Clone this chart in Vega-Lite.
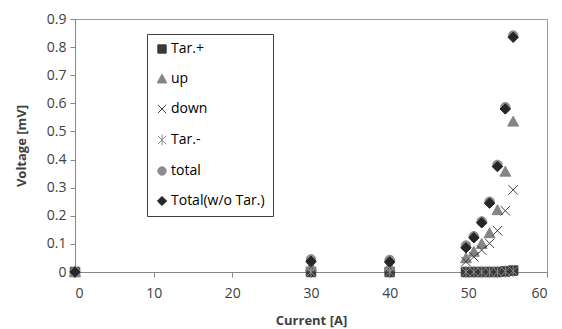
{
  "$schema": "https://vega.github.io/schema/vega-lite/v6.json",
  "width": 472,
  "height": 253,
  "autosize": {"type": "none"},
  "padding": {"left": 75, "top": 19, "right": 15, "bottom": 57},
  "background": "white",
  "data": {"values": [
    {"series": "Tar.+", "current": 0, "voltage": 0},
    {"series": "Tar.+", "current": 30, "voltage": 0},
    {"series": "Tar.+", "current": 40, "voltage": 0},
    {"series": "Tar.+", "current": 49.7, "voltage": 0},
    {"series": "Tar.+", "current": 50.7, "voltage": 0},
    {"series": "Tar.+", "current": 51.7, "voltage": 0},
    {"series": "Tar.+", "current": 52.7, "voltage": 0},
    {"series": "Tar.+", "current": 53.7, "voltage": 0},
    {"series": "Tar.+", "current": 54.7, "voltage": 0.002},
    {"series": "Tar.+", "current": 55.7, "voltage": 0.005},
    {"series": "up", "current": 0, "voltage": 0},
    {"series": "up", "current": 30, "voltage": 0.02},
    {"series": "up", "current": 40, "voltage": 0.02},
    {"series": "up", "current": 49.7, "voltage": 0.049},
    {"series": "up", "current": 50.7, "voltage": 0.072},
    {"series": "up", "current": 51.7, "voltage": 0.1},
    {"series": "up", "current": 52.7, "voltage": 0.138},
    {"series": "up", "current": 53.7, "voltage": 0.22},
    {"series": "up", "current": 54.7, "voltage": 0.357},
    {"series": "up", "current": 55.7, "voltage": 0.535},
    {"series": "down", "current": 0, "voltage": 0},
    {"series": "down", "current": 30, "voltage": 0.017},
    {"series": "down", "current": 40, "voltage": 0.016},
    {"series": "down", "current": 49.7, "voltage": 0.037},
    {"series": "down", "current": 50.7, "voltage": 0.054},
    {"series": "down", "current": 51.7, "voltage": 0.078},
    {"series": "down", "current": 52.7, "voltage": 0.102},
    {"series": "down", "current": 53.7, "voltage": 0.147},
    {"series": "down", "current": 54.7, "voltage": 0.218},
    {"series": "down", "current": 55.7, "voltage": 0.292},
    {"series": "Tar.-", "current": 0, "voltage": 0},
    {"series": "Tar.-", "current": 30, "voltage": 0},
    {"series": "Tar.-", "current": 40, "voltage": 0},
    {"series": "Tar.-", "current": 49.7, "voltage": 0},
    {"series": "Tar.-", "current": 50.7, "voltage": 0},
    {"series": "Tar.-", "current": 51.7, "voltage": 0},
    {"series": "Tar.-", "current": 52.7, "voltage": 0},
    {"series": "Tar.-", "current": 53.7, "voltage": 0},
    {"series": "Tar.-", "current": 54.7, "voltage": 0.002},
    {"series": "Tar.-", "current": 55.7, "voltage": 0.003},
    {"series": "total", "current": 0, "voltage": 0},
    {"series": "total", "current": 30, "voltage": 0.045},
    {"series": "total", "current": 40, "voltage": 0.043},
    {"series": "total", "current": 49.7, "voltage": 0.094},
    {"series": "total", "current": 50.7, "voltage": 0.127},
    {"series": "total", "current": 51.7, "voltage": 0.18},
    {"series": "total", "current": 52.7, "voltage": 0.25},
    {"series": "total", "current": 53.7, "voltage": 0.381},
    {"series": "total", "current": 54.7, "voltage": 0.586},
    {"series": "total", "current": 55.7, "voltage": 0.841},
    {"series": "Total(w/o Tar.)", "current": 0, "voltage": 0},
    {"series": "Total(w/o Tar.)", "current": 30, "voltage": 0.038},
    {"series": "Total(w/o Tar.)", "current": 40, "voltage": 0.036},
    {"series": "Total(w/o Tar.)", "current": 49.7, "voltage": 0.086},
    {"series": "Total(w/o Tar.)", "current": 50.7, "voltage": 0.122},
    {"series": "Total(w/o Tar.)", "current": 51.7, "voltage": 0.175},
    {"series": "Total(w/o Tar.)", "current": 52.7, "voltage": 0.245},
    {"series": "Total(w/o Tar.)", "current": 53.7, "voltage": 0.375},
    {"series": "Total(w/o Tar.)", "current": 54.7, "voltage": 0.58},
    {"series": "Total(w/o Tar.)", "current": 55.7, "voltage": 0.835}
  ]},
  "mark": {"type": "point", "filled": true, "size": 90, "strokeWidth": 1, "opacity": 1},
  "encoding": {
    "x": {
      "field": "current", "type": "quantitative",
      "scale": {"domain": [0, 60], "nice": false, "zero": true},
      "axis": {"values": [0, 10, 20, 30, 40, 50, 60], "title": "Current [A]", "grid": false, "titlePadding": 14, "labelPadding": 9}
    },
    "y": {
      "field": "voltage", "type": "quantitative",
      "scale": {"domain": [0, 0.9], "nice": false},
      "axis": {"values": [0, 0.1, 0.2, 0.3, 0.4, 0.5, 0.6, 0.7, 0.8, 0.9], "format": ".1~f", "title": "Voltage [mV]", "grid": false, "titlePadding": 18, "labelPadding": 4}
    },
    "shape": {
      "field": "series", "type": "nominal",
      "scale": {
        "domain": ["Tar.+", "up", "down", "Tar.-", "total", "Total(w/o Tar.)"],
        "range": ["square", "M0,-1.15L1.15,0.95L-1.15,0.95Z", "M-1,-1L1,1M-1,1L1,-1", "M-1,-1L1,1M-1,1L1,-1M0,-1.3L0,1.3", "circle", "M0,-1.1L1.1,0L0,1.1L-1.1,0Z"]
      },
      "legend": {"title": null}
    },
    "fill": {
      "field": "series", "type": "nominal",
      "scale": {
        "domain": ["Tar.+", "up", "down", "Tar.-", "total", "Total(w/o Tar.)"],
        "range": ["#3a3a3a", "#858585", "#404040", "#8a8a8a", "#8c8c8c", "#262626"]
      },
      "legend": {"title": null}
    },
    "stroke": {
      "field": "series", "type": "nominal",
      "scale": {
        "domain": ["Tar.+", "up", "down", "Tar.-", "total", "Total(w/o Tar.)"],
        "range": ["#3a3a3a", "#858585", "#404040", "#8a8a8a", "#8c8c8c", "#262626"]
      },
      "legend": {"title": null}
    }
  },
  "config": {
    "font": "Open Sans",
    "view": {"stroke": "#9a9a9a", "strokeWidth": 1},
    "axis": {
      "domainColor": "#868686",
      "tickColor": "#868686",
      "tickSize": 5,
      "labelFont": "Open Sans",
      "labelFontSize": 14,
      "labelColor": "#404040",
      "titleFont": "Open Sans",
      "titleFontSize": 13,
      "titleFontWeight": "bold",
      "titleColor": "#404040"
    },
    "legend": {
      "orient": "none",
      "legendX": 72,
      "legendY": 15,
      "direction": "vertical",
      "strokeColor": "#404040",
      "fillColor": "white",
      "padding": 8,
      "rowPadding": 16,
      "symbolSize": 70,
      "symbolStrokeWidth": 1,
      "symbolOffset": 0,
      "labelFont": "Open Sans",
      "labelFontSize": 14,
      "labelColor": "#000000",
      "labelOffset": 2
    }
  }
}
